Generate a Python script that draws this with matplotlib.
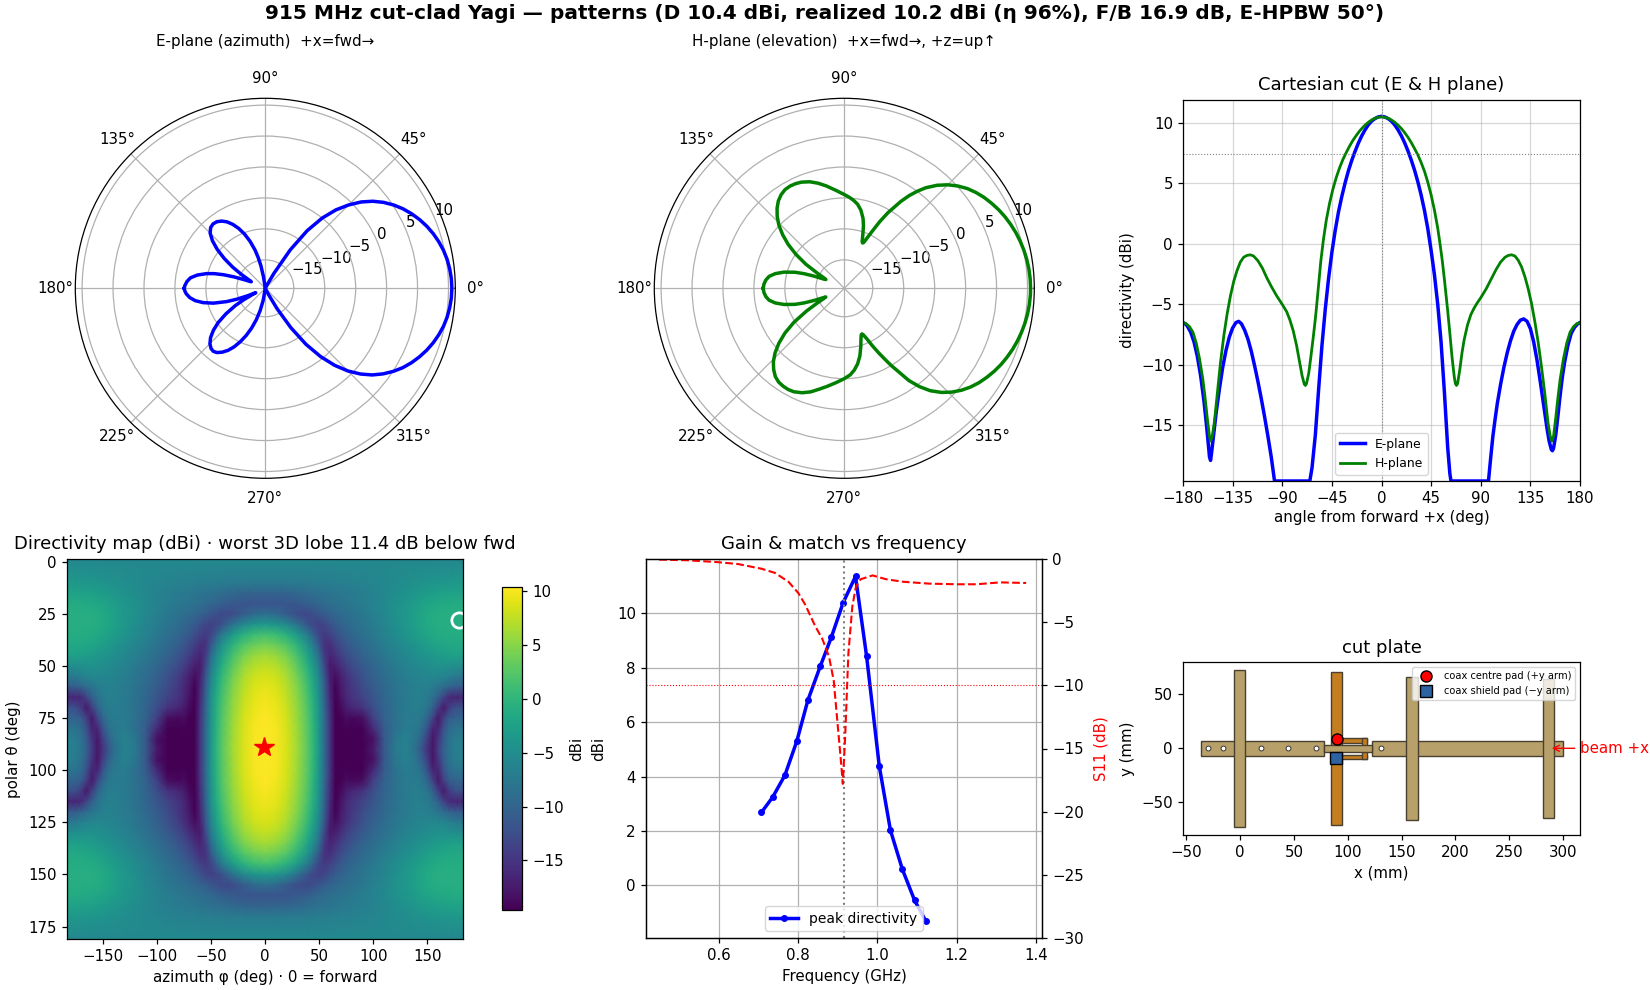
import numpy as np
import matplotlib
matplotlib.use('Agg')
import matplotlib.pyplot as plt
from matplotlib.patches import Rectangle

plt.rcParams.update({'font.size': 10.8, 'axes.titlesize': 13, 'axes.labelsize': 10.8,
                     'xtick.labelsize': 10.8, 'ytick.labelsize': 10.8, 'axes.linewidth': 0.9,
                     'xtick.major.size': 3.8, 'ytick.major.size': 3.8, 'xtick.major.width': 0.9,
                     'ytick.major.width': 0.9, 'grid.linewidth': 0.9, 'axes.titlepad': 7})

FLOOR = -19.6

# cuts: angle from forward (deg), directivity (dBi)
e_ang = [-180, -178, -176, -173, -170, -167, -164, -161, -159, -157, -156, -155, -154, -152, -150, -147, -144, -141, -138, -135, -132,
         -129.5, -127, -124, -121, -118, -115, -112, -109, -106, -103, -100, -97, -65, -63, -60, -57, -54, -51, -48, -45, -42, -39, -36,
         -33, -30, -27, -24, -21, -18, -15, -12, -9, -6, -3, 0, 3, 6, 9, 12, 15, 18, 21, 24, 27, 30, 33, 36, 39, 42, 45, 48, 51, 54, 57,
         60, 62, 63, 97, 99, 101, 103, 105, 108, 111, 114, 117, 120, 123, 126, 129, 132, 135, 138, 141, 144, 147, 150, 152, 154,
         155, 156, 158, 160, 162, 164, 166, 169, 172, 175, 178, 180]
e_val = [-6.5, -6.6, -6.8, -7.3, -8.1, -9.3, -10.9, -13, -14.7, -16.6, -17.6, -17.9, -17.2, -15.6, -14, -12, -10.2, -8.8, -7.7, -6.95, -6.5,
         -6.4, -6.6, -7.15, -7.9, -8.9, -10.1, -11.4, -12.8, -14.3, -15.9, -17.6, -19.6, -19.6, -18.5, -15.8, -12, -8.4, -5.4, -2.85, -0.7, 1.1, 2.65, 3.92,
         5.05, 6.05, 6.9, 7.65, 8.33, 8.92, 9.42, 9.84, 10.15, 10.36, 10.5, 10.55, 10.5, 10.36, 10.15, 9.84, 9.43, 8.94, 8.36, 7.69, 6.93, 6.09, 5.12, 4.02, 2.75, 1.25, -0.55, -2.55, -5, -8.1, -12.2,
         -16.8, -19, -19.6, -19.6, -17.7, -15.9, -14.5, -13.2, -11.6, -10.2, -9, -8, -7.2, -6.65, -6.3, -6.2, -6.4, -7, -8.1, -9.6, -11.4, -13.3, -15.2, -16.3, -17,
         -17.1, -16.9, -15.8, -14.2, -12.5, -11, -9.8, -8.4, -7.4, -6.9, -6.6, -6.5]

h_ang = [-180, -177, -174, -171, -168, -165, -162, -160, -158, -156, -155, -153.5, -151.5, -149, -146, -143, -140, -137, -134, -131, -128,
         -125, -122, -119, -116, -112, -108, -104, -100, -95, -90, -86, -83, -80, -77, -74, -72, -70, -69, -68, -66, -64, -62, -60, -58.7,
         -55, -52.6, -50, -47, -44, -41, -38, -35, -32, -29, -26, -23, -20, -17, -14, -11, -8, -5, -2, 0, 3, 6, 9, 12, 15, 18, 21, 24, 27,
         30, 33, 36, 39, 42, 45, 48, 51, 53, 55, 57, 60, 62, 64, 66, 67, 68, 69, 71, 73, 75, 78, 81, 84, 87, 90, 95, 100, 104, 108, 112, 115, 118,
         121, 124, 127, 130, 133, 136, 139, 142, 145, 148, 151, 153, 154.5, 156, 158, 160, 162, 165, 168, 171, 174, 177, 180]
h_val = [-6.5, -6.6, -6.85, -7.3, -8.2, -9.5, -11.2, -12.7, -14.4, -15.9, -16.3, -15.9, -14.7, -12.5, -9.8, -7.6, -5.8, -4.3, -3.1, -2.2, -1.5,
         -1.1, -0.95, -0.9, -1, -1.4, -2, -2.8, -3.5, -4.3, -5, -5.6, -6.3, -7.2, -8.4, -9.9, -10.9, -11.6, -11.7, -11.55, -10.7, -9.3, -7.8, -6.2, -5,
         -1.4, 0.4, 2.0, 3.4, 4.55, 5.5, 6.3, 6.98, 7.55, 8.08, 8.55, 8.95, 9.32, 9.63, 9.9, 10.12, 10.3, 10.42, 10.49, 10.5, 10.47, 10.39, 10.25, 10.06, 9.82, 9.54, 9.2, 8.82, 8.38,
         7.88, 7.35, 6.72, 6.0, 5.1, 4.05, 2.8, 1.3, 0.05, -1.3, -2.9, -5.5, -7.4, -9.4, -11, -11.55, -11.7, -11.55, -10.4, -9, -7.9, -6.7, -5.85, -5.3, -4.85, -4.45, -3.7, -2.8, -2.1, -1.5, -1.1, -0.95, -0.9,
         -1, -1.35, -1.9, -2.7, -3.7, -4.9, -6.4, -8.1, -10.1, -12.3, -14.8, -15.9, -16.3, -15.9, -14.4, -12.7, -11.2, -9.5, -8.2, -7.3, -6.85, -6.6, -6.5]

# gain and match
f_d = [0.708, 0.736, 0.767, 0.797, 0.825, 0.856, 0.884, 0.914, 0.945, 0.973, 1.005, 1.033, 1.063, 1.094, 1.122]
peak_d = [2.69, 3.24, 4.05, 5.30, 6.81, 8.05, 9.12, 10.4, 11.36, 8.42, 4.38, 2.03, 0.6, -0.55, -1.3]
f_s = [0.45, 0.522, 0.598, 0.649, 0.708, 0.742, 0.776, 0.801, 0.818, 0.844, 0.861, 0.878, 0.89, 0.899, 0.908, 0.913, 0.919,
       0.927, 0.937, 0.946, 0.958, 0.988, 1.022, 1.064, 1.131, 1.2, 1.25, 1.31, 1.375]
s11 = [-0.05, -0.1, -0.25, -0.4, -0.77, -1.1, -1.8, -2.7, -3.6, -5.35, -6.3, -7.7, -9.6, -12.75, -15.9, -17.8, -14,
       -7.5, -3.75, -2.2, -1.6, -1.3, -1.6, -1.8, -1.95, -2.0, -2.0, -1.85, -1.9]

# directivity map, one quadrant: rows theta 0..90, cols phi 0..180
map_phi = [0, 10, 20, 30, 40, 45, 50, 55, 60, 65, 70, 75, 80, 90, 100, 110, 120, 130, 140, 145, 150, 155, 160, 165, 170, 175, 180]
map_theta = [0, 10, 15, 20, 25, 30, 35, 40, 45, 50, 55, 60, 65, 70, 75, 80, 85, 90]
map_db = [
    [-5.6] * 27,
    [-7.5, -7.5, -7.4, -7.3, -7.2, -7.1, -7, -7, -6.9, -6.8, -6.7, -6.6, -6.5, -6.2, -5.9, -5.6, -5.2, -4.9, -4.5, -4.3, -4.1, -4, -3.8, -3.7, -3.6, -3.5, -3.5],
    [-10.3, -10.2, -10, -9.6, -9, -8.8, -8.5, -8.3, -8, -7.8, -7.6, -7.4, -7.2, -6.8, -6.3, -5.7, -5, -4.4, -3.7, -3.4, -3.1, -2.9, -2.7, -2.6, -2.5, -2.4, -2.4],
    [-11.7, -11.7, -11.6, -11.3, -10.5, -10, -9.6, -9.2, -8.8, -8.5, -8.2, -7.9, -7.6, -7, -6.3, -5.5, -4.6, -3.8, -2.9, -2.5, -2.1, -1.8, -1.6, -1.5, -1.4, -1.3, -1.3],
    [-8.6, -9.2, -11, -12.8, -13, -12.3, -11.6, -10.8, -10.2, -9.6, -9.2, -8.8, -8.4, -7.6, -6.7, -5.7, -4.6, -3.6, -2.5, -2, -1.5, -1.2, -1, -0.9, -0.9, -0.9, -0.9],
    [-3.6, -4, -5.5, -8.3, -12, -13.3, -13.8, -13.3, -12, -11, -10.2, -9.5, -9, -8, -7, -5.9, -4.8, -3.7, -2.5, -2, -1.5, -1.2, -0.9, -0.9, -0.9, -0.9, -0.9],
    [1.5, 1, -0.5, -3.2, -7.5, -10.5, -13.5, -14.5, -13.7, -12.5, -11.3, -10.5, -9.8, -8.6, -7.5, -6.3, -5.2, -4.1, -3, -2.5, -2, -1.6, -1.3, -1.2, -1.2, -1.1, -1.1],
    [4.2, 3.7, 2.2, -0.3, -4.5, -7.5, -11.5, -15.3, -15.5, -14, -12.7, -11.6, -10.8, -9.4, -8.2, -7, -5.9, -4.9, -3.9, -3.4, -2.9, -2.5, -2.1, -1.9, -1.7, -1.6, -1.6],
    [6.3, 5.8, 4.3, 1.5, -2.4, -5.2, -9, -14.5, -16.5, -15.5, -14, -12.8, -11.8, -10.2, -9, -7.7, -6.7, -5.7, -4.8, -4.4, -4, -3.6, -3.2, -3, -2.8, -2.7, -2.7],
    [7.6, 7.1, 5.6, 2.8, -1, -3.8, -7.5, -13, -17.6, -17, -15.5, -14, -12.9, -11.2, -9.7, -8.5, -7.3, -6.4, -5.6, -5.3, -5, -4.8, -4.6, -4.6, -4.8, -4.9, -5],
    [8.6, 8.1, 6.6, 3.9, 0.2, -2.6, -6.2, -11.7, -17, -18.5, -17, -15.5, -14.2, -12, -10.4, -9, -7.8, -6.9, -6.2, -6, -5.8, -5.7, -5.8, -6, -6.6, -7.2, -7.5],
    [9.2, 8.7, 7.2, 4.6, 0.8, -1.8, -5.4, -10.9, -16.5, -19.4, -17.5, -16, -14.8, -12.8, -11, -9.5, -8.2, -7.2, -6.6, -6.5, -6.6, -7.2, -8, -9, -10, -10.8, -11],
    [9.7, 9.2, 7.7, 5.1, 1.4, -1.2, -4.8, -10.3, -16, -19.6, -18, -16.3, -15.2, -13.6, -11.6, -9.8, -8.3, -7.2, -6.7, -6.8, -7.2, -8.4, -10.6, -13.5, -16, -16.5, -16.5],
    [10, 9.5, 8, 5.4, 1.8, -0.8, -4.4, -9.9, -15.5, -19.6, -18.8, -17.3, -16.4, -15.2, -12.4, -10, -8.4, -7.2, -6.9, -7.1, -8.1, -10.3, -14, -17.5, -14.5, -12.5, -12],
    [10.3, 9.8, 8.3, 5.7, 2.1, -0.5, -4.1, -9.6, -15.2, -19.6, -19.5, -18.6, -18.9, -18.5, -13.8, -10.3, -8.5, -7.2, -7.1, -7.9, -9.8, -13.5, -17.5, -14, -11, -10.2, -10],
    [10.4, 10, 8.5, 5.9, 2.3, -0.3, -3.9, -9.4, -15, -19.6, -19.6, -19.4, -19.6, -19.6, -16, -11, -8.4, -7, -7.6, -9, -12, -16.5, -16.5, -12, -9.3, -8.3, -8],
    [10.5, 10.1, 8.6, 6, 2.4, -0.2, -3.8, -9.3, -15, -19.6, -19.6, -19.6, -19.6, -19.6, -18.2, -11.5, -7.8, -6.4, -8.2, -10.5, -14, -17.8, -15, -11, -8.5, -7.2, -6.8],
    [10.55, 10.05, 8.6, 6.09, 2.5, -0.1, -3.7, -9.2, -15, -19.6, -19.6, -19.6, -19.6, -19.6, -17.6, -11.3, -7.4, -6.3, -9, -12, -15.2, -17.8, -14.2, -10.4, -8, -6.9, -6.5],
]

# plate outline in mm: x0, x1, y0, y1
tan_parts = [(-36, 78.3, -7, 7), (122.9, 299.6, -7, 7), (78.3, 122.9, -3.5, 3), (-5.3, 5, -73, 72.3),
             (154.4, 165, -67, 66), (281.7, 291.2, -65, 64)]
copper_parts = [(84.8, 95, -71.3, 70.7), (95, 117.6, 5.2, 9.3), (95, 117.6, -10.2, -6.5), (113.5, 117.6, -10.2, 9.3)]
hole_x = [-30, -15.8, 19.2, 44.3, 70.3, 130.6]

W, H = 1650, 990


def px_axes(x0, y0, x1, y1, **kw):
    return fig.add_axes([x0 / W, 1 - y1 / H, (x1 - x0) / W, (y1 - y0) / H], **kw)


fig = plt.figure(figsize=(16.5, 9.9), dpi=100)
fig.suptitle('915 MHz cut-clad Yagi — patterns (D 10.4 dBi, realized 10.2 dBi (η 96%), F/B 16.9 dB, E-HPBW 50°)',
             fontsize=14.5, fontweight='bold', x=0.5, y=0.9955)

# polar cuts
titles = ['E-plane (azimuth)  +x=fwd→', 'H-plane (elevation)  +x=fwd→, +z=up↑']
for cx, ang, val, col, ttl in [(265.3, e_ang, e_val, 'b', titles[0]), (844.3, h_ang, h_val, 'g', titles[1])]:
    ax = px_axes(cx - 190, 98.3, cx + 190, 478.3, projection='polar')
    ax.plot(np.radians(ang), val, color=col, lw=2.5)
    ax.set_ylim(FLOOR, 11.1)
    ax.set_yticks([-15, -10, -5, 0, 5, 10])
    ax.set_title(ttl, fontsize=10.9, pad=38)

# cartesian
ax = px_axes(1183, 100, 1580, 481)
ax.plot(e_ang, e_val, 'b', lw=2.5, label='E-plane')
ax.plot(h_ang, h_val, 'g', lw=2, label='H-plane')
ax.axvline(0, color='gray', ls=':', lw=0.8)
ax.axhline(7.4, color='gray', ls=':', lw=0.8)
ax.set_xlim(-180, 180)
ax.set_ylim(FLOOR, 11.9)
ax.set_xticks(range(-180, 181, 45))
ax.grid(True, alpha=0.5)
ax.set_xlabel('angle from forward +x (deg)', labelpad=2.5)
ax.set_ylabel('directivity (dBi)', labelpad=4.5)
ax.set_title('Cartesian cut (E & H plane)')
ax.legend(loc='lower center', fontsize=8.9)

# map
q = np.array(map_db)
full = np.hstack([q[:, :0:-1], q])
full = np.vstack([full, full[-2::-1]])
full = np.pad(full, 1, mode='edge')
phi = np.array(map_phi)
phi = np.concatenate([[-183], -phi[:0:-1], phi, [183]])
th = np.array(map_theta)
th = np.concatenate([[-1.5], th, 180 - th[-2::-1], [181]])
ax = px_axes(67, 559, 463, 939)
m = ax.pcolormesh(phi, th, full, cmap='viridis', vmin=FLOOR, vmax=10.4, shading='gouraud')
ax.plot(-1, 89, marker='*', color='r', ms=15)
ax.plot(179, 28, marker='o', mfc='none', mec='w', ms=11, mew=2)
ax.set_xlim(-183, 183)
ax.set_ylim(181, -1.5)
ax.set_xticks(range(-150, 151, 50))
ax.set_yticks(range(0, 176, 25))
ax.set_xlabel('azimuth φ (deg) · 0 = forward')
ax.set_ylabel('polar θ (deg)', labelpad=5)
ax.set_title('Directivity map (dBi) · worst 3D lobe 11.4 dB below fwd')
cax = px_axes(502, 587, 522, 910)
cb = fig.colorbar(m, cax=cax, ticks=[-15, -10, -5, 0, 5, 10])
cb.set_label('dBi')

# frequency
ax = px_axes(646, 559, 1042, 938)
ax.plot(f_d, peak_d, 'b-o', ms=4, lw=2.5, label='peak directivity')
ax.axvline(0.915, color='gray', ls=':', lw=1.5)
ax.set_xlim(0.417, 1.415)
ax.set_ylim(-1.93, 12)
ax.set_xticks([0.6, 0.8, 1.0, 1.2, 1.4])
ax.set_yticks([0, 2, 4, 6, 8, 10])
ax.grid(True)
ax.set_xlabel('Frequency (GHz)')
ax.set_ylabel('dBi', labelpad=8)
ax.set_title('Gain & match vs frequency')
ax.legend(loc='lower center', fontsize=10)
ax2 = ax.twinx()
ax2.plot(f_s, s11, 'r--', lw=1.5)
ax2.axhline(-10, color='r', ls=':', lw=0.8)
ax2.set_ylim(-30, 0)
ax2.set_ylabel('S11 (dB)', color='r', labelpad=7)

# plate
ax = px_axes(1183, 662.3, 1580.3, 835.3)
for x0, x1, y0, y1 in copper_parts:
    ax.add_patch(Rectangle((x0, y0), x1 - x0, y1 - y0, fc='#c47d1f', ec='#4a4030', lw=1))
for x0, x1, y0, y1 in tan_parts:
    ax.add_patch(Rectangle((x0, y0), x1 - x0, y1 - y0, fc='#b8a06a', ec='#4a4030', lw=1))
ax.plot(hole_x, [0] * len(hole_x), 'o', mfc='w', mec='#222222', ms=3.5, mew=0.6, ls='')
ax.plot(90, 8.5, 'o', color='r', mec='k', ms=8, mew=1, ls='', label='coax centre pad (+y arm)', zorder=5)
ax.plot(89, -9, 's', color='#2d62a3', mec='k', ms=8, mew=1, ls='', label='coax shield pad (−y arm)', zorder=5)
ax.annotate('beam +x', xy=(287, 0), xytext=(316, 0), color='r', va='center', annotation_clip=False,
            arrowprops=dict(arrowstyle='->', color='r'))
ax.set_xlim(-53, 316)
ax.set_ylim(-80.8, 79.9)
ax.set_xticks(range(-50, 301, 50))
ax.set_xlabel('x (mm)')
ax.set_ylabel('y (mm)', labelpad=4.5)
ax.set_title('cut plate')
ax.legend(loc='upper right', fontsize=7.15)

fig.savefig('out.png', dpi=100)
